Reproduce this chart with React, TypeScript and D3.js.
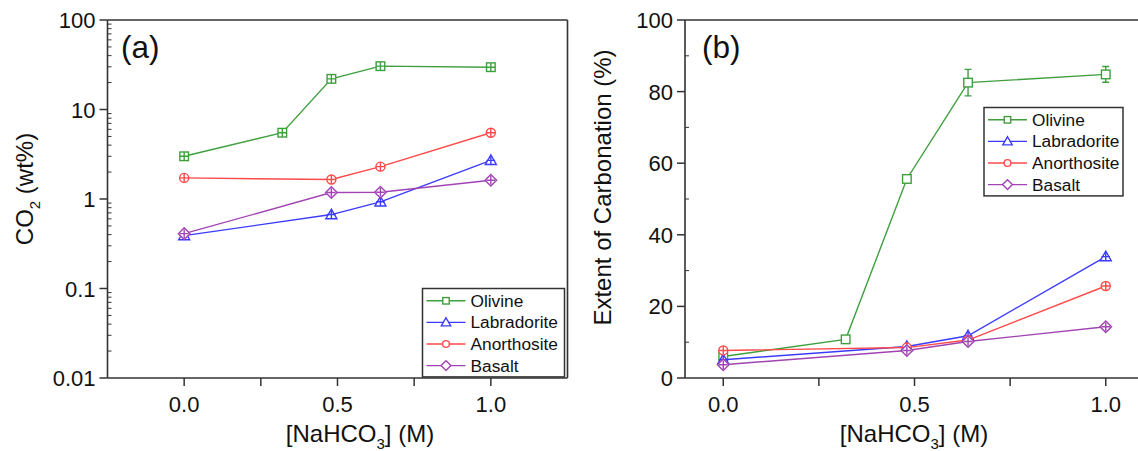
import React from "react";
import * as d3 from "d3";

// NaHCO3 concentrations (M) used for each mineral series
const X_OLIVINE = [0, 0.32, 0.48, 0.64, 1.0];
const X_OTHERS = [0, 0.48, 0.64, 1.0];

// (a) CO2 content, wt%
const CO2_OLIVINE = [3.0, 5.5, 22, 30.5, 29.7];
const CO2_LABRADORITE = [0.39, 0.67, 0.93, 2.7];
const CO2_ANORTHOSITE = [1.72, 1.65, 2.3, 5.5];
const CO2_BASALT = [0.41, 1.18, 1.19, 1.62];

// (b) extent of carbonation, %
const EXT_OLIVINE = [6.0, 10.8, 55.6, 82.5, 84.8];
const EXT_OLIVINE_ERR = [0, 0, 0, 3.7, 2.2];
const EXT_LABRADORITE = [5.1, 8.8, 11.8, 33.9];
const EXT_ANORTHOSITE = [7.7, 8.5, 10.6, 25.7];
const EXT_BASALT = [3.7, 7.7, 10.2, 14.3];

const SERIES_NAMES = ["Olivine", "Labradorite", "Anorthosite", "Basalt"];
const X_TICKS = [0, 0.5, 1.0];
const X_MINOR = [0.25, 0.75];
const LOG_TICKS = [100, 10, 1, 0.1, 0.01];
const LOG_TICK_LABELS = ["100", "10", "1", "0.1", "0.01"];
const LIN_TICKS = [0, 20, 40, 60, 80, 100];
const LIN_MINOR = [10, 30, 50, 70, 90];

const COLORS = ["#3f9f3f", "#3b3bff", "#ff4a4a", "#a143b3"];
const SHAPES = ["square", "triangle", "circle", "diamond"];
const FONT = "'Liberation Sans', Arial, Helvetica, sans-serif";
const AXIS = "#333";

function Marker({ shape, x, y, color, s = 1, plus = false, fill = "white" }) {
  let el;
  if (shape === "square") {
    const h = 4.3 * s;
    el = <rect x={x - h} y={y - h} width={2 * h} height={2 * h} />;
  } else if (shape === "circle") {
    el = <circle cx={x} cy={y} r={4.5 * s} />;
  } else if (shape === "triangle") {
    const h = 5.5 * s;
    el = <path d={`M${x},${y - h}L${x + h},${y + h * 0.75}L${x - h},${y + h * 0.75}Z`} />;
  } else {
    const h = 5.8 * s;
    el = <path d={`M${x},${y - h}L${x + h},${y}L${x},${y + h}L${x - h},${y}Z`} />;
  }
  const c = 4.3 * s;
  return (
    <g stroke={color} strokeWidth={1.4} fill={fill}>
      {el}
      {plus && (
        <path d={`M${x - c},${y}H${x + c}M${x},${y - c}V${y + c}`} fill="none" />
      )}
    </g>
  );
}

function Legend({ x, y, w }) {
  const rowH = 21.6;
  const h = rowH * 4 + 2;
  return (
    <g>
      <rect x={x} y={y} width={w} height={h} fill="white" stroke={AXIS} strokeWidth={1.5} />
      {SERIES_NAMES.map((name, i) => {
        const cy = y + 12.3 + i * rowH;
        return (
          <g key={name}>
            <line x1={x + 4} x2={x + 43} y1={cy} y2={cy} stroke={COLORS[i]} strokeWidth={1.4} />
            <Marker shape={SHAPES[i]} x={x + 23.5} y={cy} color={COLORS[i]} s={SHAPES[i] === "square" || SHAPES[i] === "circle" ? 0.75 : 0.85} />
            <text x={x + 48} y={cy + 6} fontSize={17.3} fill="#111" fontFamily={FONT}>
              {name}
            </text>
          </g>
        );
      })}
    </g>
  );
}

function Series({ xs, ys, x, y, color, shape, plus, err }) {
  const line = d3
    .line()
    .x((d) => x(d[0]))
    .y((d) => y(d[1]));
  const pts = xs.map((v, i) => [v, ys[i]]);
  return (
    <g>
      <path d={line(pts)} fill="none" stroke={color} strokeWidth={1.4} />
      {err &&
        pts.map((p, i) =>
          err[i] > 0 ? (
            <path
              key={"e" + i}
              d={`M${x(p[0]) - 3.5},${y(p[1] + err[i])}H${x(p[0]) + 3.5}M${x(p[0])},${y(p[1] + err[i])}V${y(p[1] - err[i])}M${x(p[0]) - 3.5},${y(p[1] - err[i])}H${x(p[0]) + 3.5}`}
              stroke={color}
              strokeWidth={1.4}
              fill="none"
            />
          ) : null
        )}
      {pts.map((p, i) => (
        <Marker key={i} shape={shape} x={x(p[0])} y={y(p[1])} color={color} plus={plus} />
      ))}
    </g>
  );
}

function XAxis({ x, y0, left, right, titleX }) {
  return (
    <g>
      <line x1={left} x2={right} y1={y0} y2={y0} stroke={AXIS} strokeWidth={1.6} />
      {[...X_TICKS, ...X_MINOR].map((t) => (
        <line key={t} x1={x(t)} x2={x(t)} y1={y0} y2={y0 + 8} stroke={AXIS} strokeWidth={1.5} />
      ))}
      {X_TICKS.map((t) => (
        <text key={t} x={x(t)} y={y0 + 34} textAnchor="middle" fontSize={22} fill="#111" fontFamily={FONT}>
          {d3.format(".1f")(t)}
        </text>
      ))}
      <text x={titleX} y={y0 + 64} textAnchor="middle" fontSize={24} fill="#111" fontFamily={FONT}>
        [NaHCO<tspan fontSize={15} dy={7}>3</tspan>
        <tspan dy={-7}>] (M)</tspan>
      </text>
    </g>
  );
}

export default function App() {
  const top = 20;
  const bottom = 378;

  // panel (a): log scale
  const xa = d3.scaleLinear().domain([-0.25, 1.25]).range([107.5, 567.5]);
  const ya = d3.scaleLog().domain([0.01, 100]).range([bottom, top]);
  // panel (b): linear scale
  const xb = d3.scaleLinear().domain([-0.1, 1.1]).range([685, 1144]);
  const yb = d3.scaleLinear().domain([0, 100]).range([bottom, top]);

  const minorLog = [];
  [0.01, 0.1, 1, 10].forEach((dec) => {
    for (let k = 2; k <= 9; k++) minorLog.push(dec * k);
  });

  const aSeries = [
    [X_OLIVINE, CO2_OLIVINE],
    [X_OTHERS, CO2_LABRADORITE],
    [X_OTHERS, CO2_ANORTHOSITE],
    [X_OTHERS, CO2_BASALT],
  ];
  const bSeries = [
    [X_OLIVINE, EXT_OLIVINE],
    [X_OTHERS, EXT_LABRADORITE],
    [X_OTHERS, EXT_ANORTHOSITE],
    [X_OTHERS, EXT_BASALT],
  ];

  return (
    <svg
      width={1138}
      height={451}
      style={{ position: "absolute", left: 0, top: 0, background: "white" }}
      fontFamily={FONT}
    >
      {/* ---- panel (a) ---- */}
      <g>
        <line x1={xa.range()[0]} x2={xa.range()[1]} y1={top} y2={top} stroke={AXIS} strokeWidth={1.6} />
        <line x1={xa.range()[1]} x2={xa.range()[1]} y1={top} y2={bottom} stroke={AXIS} strokeWidth={1.6} />
        <line x1={xa.range()[0]} x2={xa.range()[0]} y1={top} y2={bottom} stroke={AXIS} strokeWidth={1.6} />
        {LOG_TICKS.map((t, i) => (
          <g key={t}>
            <line x1={xa.range()[0] - 8} x2={xa.range()[0]} y1={ya(t)} y2={ya(t)} stroke={AXIS} strokeWidth={1.5} />
            <text x={xa.range()[0] - 12} y={ya(t) + 8} textAnchor="end" fontSize={22} fill="#111">
              {LOG_TICK_LABELS[i]}
            </text>
          </g>
        ))}
        {minorLog.map((t) => (
          <line key={t} x1={xa.range()[0]} x2={xa.range()[0] + 4} y1={ya(t)} y2={ya(t)} stroke={AXIS} strokeWidth={1} />
        ))}
        <XAxis x={xa} y0={bottom} left={xa.range()[0]} right={xa.range()[1]} titleX={360} />
        <text transform={`translate(33,189) rotate(-90)`} textAnchor="middle" fontSize={24} fill="#111">
          CO<tspan fontSize={15} dy={7}>2</tspan>
          <tspan dy={-7}> (wt%)</tspan>
        </text>
        <text x={121} y={57.5} fontSize={31.5} fill="#111">
          (a)
        </text>
        {aSeries.map((s, i) => (
          <Series key={i} xs={s[0]} ys={s[1]} x={xa} y={ya} color={COLORS[i]} shape={SHAPES[i]} plus={true} />
        ))}
        <Legend x={422.5} y={288.5} w={142} />
      </g>

      {/* ---- panel (b) ---- */}
      <g>
        <line x1={xb.range()[0]} x2={xb.range()[1]} y1={top} y2={top} stroke={AXIS} strokeWidth={1.6} />
        <line x1={xb.range()[0]} x2={xb.range()[0]} y1={top} y2={bottom} stroke={AXIS} strokeWidth={1.6} />
        {LIN_TICKS.map((t) => (
          <g key={t}>
            <line x1={xb.range()[0] - 8} x2={xb.range()[0]} y1={yb(t)} y2={yb(t)} stroke={AXIS} strokeWidth={1.5} />
            <text x={xb.range()[0] - 12} y={yb(t) + 8} textAnchor="end" fontSize={22} fill="#111">
              {t}
            </text>
          </g>
        ))}
        {LIN_MINOR.map((t) => (
          <line key={t} x1={xb.range()[0]} x2={xb.range()[0] + 4} y1={yb(t)} y2={yb(t)} stroke={AXIS} strokeWidth={1} />
        ))}
        <XAxis x={xb} y0={bottom} left={xb.range()[0]} right={xb.range()[1]} titleX={914} />
        <text transform={`translate(611,187.5) rotate(-90)`} textAnchor="middle" fontSize={24} fill="#111">
          Extent of Carbonation (%)
        </text>
        <text x={702} y={57.5} fontSize={31.5} fill="#111">
          (b)
        </text>
        {bSeries.map((s, i) => (
          <Series
            key={i}
            xs={s[0]}
            ys={s[1]}
            x={xb}
            y={yb}
            color={COLORS[i]}
            shape={SHAPES[i]}
            plus={i > 0}
            err={i === 0 ? EXT_OLIVINE_ERR : null}
          />
        ))}
        <Legend x={984} y={107.5} w={139} />
      </g>
    </svg>
  );
}
